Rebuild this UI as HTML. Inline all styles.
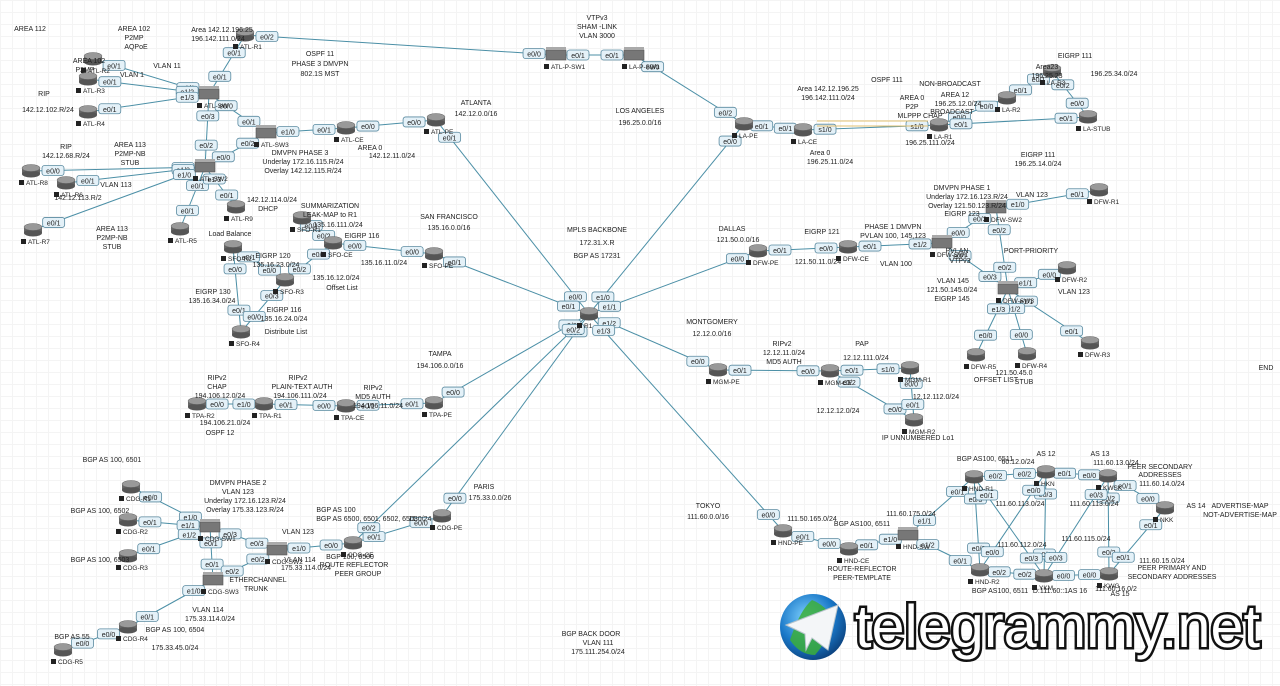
<!DOCTYPE html>
<html><head><meta charset="utf-8">
<style>
html,body{margin:0;padding:0;width:1280px;height:686px;overflow:hidden;background:#fff;}
body{background-image:linear-gradient(#f4f4f4 1px,transparent 1px),linear-gradient(90deg,#f4f4f4 1px,transparent 1px);background-size:12px 12px;}
svg{position:absolute;left:0;top:0;font-family:"Liberation Sans",sans-serif;}
</style></head><body>
<svg id="s" width="1280" height="686" viewBox="0 0 1280 686"></svg>
<script>
const s=document.getElementById('s');let h='';
const R={R1:[589,314],'ATL-PE':[436,120],'ATL-CE':[346,128],'ATL-SW3':[266,133],'ATL-SW':[209,94],'ATL-R1':[245,35],'ATL-R2':[93,59],'ATL-R3':[88,79],'ATL-R4':[88,112],'ATL-SW2':[205,167],'ATL-R8':[31,171],'ATL-R6':[66,183],'ATL-R7':[33,230],'ATL-R5':[180,229],'ATL-R9':[236,207],
'ATL-P-SW1':[556,55],'LA-P-SW1':[634,55],'LA-PE':[744,124],'LA-CE':[803,130],'LA-R1':[939,125],'LA-R2':[1007,98],'LA-R3':[1052,71],'LA-STUB':[1088,117],
'SFO-PE':[434,254],'SFO-CE':[333,243],'SFO-R1':[302,218],'SFO-R2':[233,247],'SFO-R3':[285,280],'SFO-R4':[241,332],
'DFW-PE':[758,251],'DFW-CE':[848,247],'DFW-SW1':[942,243],'DFW-SW2':[996,208],'DFW-R1':[1099,190],'DFW-SW3':[1008,289],'DFW-R2':[1067,268],'DFW-R3':[1090,343],'DFW-R4':[1027,354],'DFW-R5':[976,355],
'MGM-PE':[718,370],'MGM-CE':[830,371],'MGM-R1':[910,368],'MGM-R2':[914,420],
'TPA-PE':[434,403],'TPA-CE':[346,406],'TPA-R1':[264,404],'TPA-R2':[197,404],
'CDG-R1':[131,487],'CDG-R2':[128,520],'CDG-R3':[128,556],'CDG-SW1':[210,527],'CDG-SW2':[277,550],'CDG-SW3':[213,580],'CDG-R4':[128,627],'CDG-R5':[63,650],'CDG-CE':[353,543],'CDG-PE':[442,516],
'HND-PE':[783,531],'HND-CE':[849,549],'HND-SW':[908,535],'HND-R1':[974,477],'HKN':[1046,472],'KWSK':[1108,476],'NKK':[1165,508],'HND-R2':[980,570],'YKM':[1044,576],'KWG':[1109,574]};
const L=[['R1','ATL-PE','e0/0','e0/1'],['R1','LA-PE','e1/0','e0/0'],['R1','SFO-PE','e0/1','e0/1'],['R1','DFW-PE','e1/1','e0/0'],['R1','MGM-PE','e1/2','e0/0'],['R1','TPA-PE','e0/2','e0/0'],['R1','CDG-PE','e0/3','e0/0'],['R1','HND-PE','e1/3','e0/0'],
['ATL-R1','ATL-P-SW1','e0/2','e0/0'],['ATL-P-SW1','LA-P-SW1','e0/1','e0/1'],['LA-P-SW1','LA-PE','e0/0','e0/2'],['ATL-PE','ATL-CE','e0/0','e0/0'],['ATL-CE','ATL-SW3','e0/1','e1/0'],['ATL-SW3','ATL-SW','e0/1','e0/0'],['ATL-SW3','ATL-SW2','e0/2','e0/0'],
['ATL-SW','ATL-R1','e0/1','e0/1'],['ATL-SW','ATL-R2','e1/1','e0/1'],['ATL-SW','ATL-R3','e1/2','e0/1'],['ATL-SW','ATL-R4','e1/3','e0/1'],['ATL-SW','ATL-SW2','e0/3','e0/2'],['ATL-SW2','ATL-R8','e1/1','e0/0'],['ATL-SW2','ATL-R6','e1/2','e0/1'],['ATL-SW2','ATL-R7','e1/0','e0/1'],['ATL-SW2','ATL-R5','e0/1','e0/1'],['ATL-SW2','ATL-R9','e1/3','e0/1'],
['LA-PE','LA-CE','e0/1','e0/1'],['LA-CE','LA-R1','s1/0','s1/0'],['LA-R1','LA-R2','e0/0','e0/0'],['LA-R2','LA-R3','e0/1','e0/1'],['LA-R1','LA-STUB','e0/1','e0/1'],['LA-R3','LA-STUB','e0/2','e0/0'],
['SFO-PE','SFO-CE','e0/0','e0/0'],['SFO-CE','SFO-R1','e0/2','e0/1'],['SFO-CE','SFO-R3','e0/1','e0/2'],['SFO-R2','SFO-R3','e0/1','e0/0'],['SFO-R2','SFO-R4','e0/0','e0/1'],['SFO-R3','SFO-R4','e0/3','e0/0'],
['DFW-PE','DFW-CE','e0/1','e0/0'],['DFW-CE','DFW-SW1','e0/1','e1/2'],['DFW-SW1','DFW-SW2','e0/0','e0/3'],['DFW-SW1','DFW-SW3','e0/1','e0/3'],['DFW-SW2','DFW-R1','e1/0','e0/1'],['DFW-SW2','DFW-SW3','e0/2','e0/2'],['DFW-SW3','DFW-R2','e1/1','e0/0'],['DFW-SW3','DFW-R3','e1/1','e0/1'],['DFW-SW3','DFW-R4','e1/2','e0/0'],['DFW-SW3','DFW-R5','e1/3','e0/0'],
['MGM-PE','MGM-CE','e0/1','e0/0'],['MGM-CE','MGM-R1','e0/1','s1/0'],['MGM-CE','MGM-R2','e0/2','e0/0'],['MGM-R1','MGM-R2','e0/0','e0/1'],
['TPA-PE','TPA-CE','e0/1','e0/1'],['TPA-CE','TPA-R1','e0/0','e0/1'],['TPA-R1','TPA-R2','e1/0','e0/0'],
['CDG-PE','CDG-CE','e0/0','e0/1'],['CDG-CE','CDG-SW2','e0/0','e1/0'],['CDG-SW1','CDG-R1','e1/0','e0/0'],['CDG-SW1','CDG-R2','e1/1','e0/1'],['CDG-SW1','CDG-R3','e1/2','e0/1'],['CDG-SW1','CDG-SW2','e0/3','e0/3'],['CDG-SW1','CDG-SW3','e0/1','e0/1'],['CDG-SW2','CDG-SW3','e0/2','e0/2'],['CDG-SW3','CDG-R4','e1/0','e0/1'],['CDG-R4','CDG-R5','e0/0','e0/0'],
['R1','CDG-CE','e0/2','e0/2'],['HND-PE','HND-CE','e0/1','e0/0'],['HND-CE','HND-SW','e0/1','e1/0'],['HND-SW','HND-R1','e1/1','e0/1'],['HND-SW','HND-R2','e1/2','e0/1'],['HND-R1','HKN','e0/2','e0/2'],['HKN','KWSK','e0/1','e0/0'],['HKN','YKM','e0/3','e0/1'],['HND-R1','HND-R2','e0/3','e0/3'],['HND-R2','YKM','e0/2','e0/2'],['YKM','KWG','e0/0','e0/0'],['KWSK','KWG','e0/2','e0/2'],['KWSK','NKK','e0/1','e0/0'],['NKK','KWG','e0/1','e0/1'],['HND-R1','YKM','e0/1','e0/3'],['HKN','HND-R2','e0/0','e0/0'],['KWSK','YKM','e0/3','e0/3']];
L.forEach(l=>{const a=R[l[0]],b=R[l[1]];h+=`<line x1="${a[0]}" y1="${a[1]}" x2="${b[0]}" y2="${b[1]}" stroke="#4b8fa6" stroke-width="1"/>`;});
function lab(x,y,t){h+=`<rect x="${x-11}" y="${y-5}" width="22" height="10" rx="2.5" fill="#e4f1f8" stroke="#5a8aa0" stroke-width="0.8"/><text x="${x}" y="${y+3}" font-size="7" text-anchor="middle" fill="#222">${t}</text>`;}
L.forEach(l=>{const a=R[l[0]],b=R[l[1]];const d=Math.hypot(b[0]-a[0],b[1]-a[1]);const f=Math.min(0.3,22/d);lab(a[0]+(b[0]-a[0])*f,a[1]+(b[1]-a[1])*f,l[2]);lab(b[0]+(a[0]-b[0])*f,b[1]+(a[1]-b[1])*f,l[3]);});
for(const k in R){const[x,y]=R[k];const sw=/SW/.test(k);
if(sw){h+=`<rect x="${x-10}" y="${y-5}" width="20" height="10" fill="#777" stroke="#555" stroke-width=".6"/><rect x="${x-10}" y="${y-8}" width="20" height="3" fill="#aaa"/>`;}
else{h+=`<rect x="${x-9}" y="${y-3}" width="18" height="6" fill="#666"/><ellipse cx="${x}" cy="${y+3}" rx="9" ry="3.5" fill="#555"/><ellipse cx="${x}" cy="${y-3}" rx="9" ry="3.5" fill="#999" stroke="#666" stroke-width="0.5"/>`;}
h+=`<rect x="${x-12}" y="${y+9}" width="5" height="5" fill="#222"/><text x="${x-5}" y="${y+14}" font-size="6.5" fill="#222">${k}</text>`;}
const T=[[30,31,'AREA 112'],[134,31,'AREA 102'],[134,40,'P2MP'],[136,49,'AQPoE'],[89,63,'AREA 102'],[85,72,'P2MP'],[132,77,'VLAN 1'],[167,68,'VLAN 11'],[44,96,'RIP'],[48,112,'142.12.102.R/24'],[222,32,'Area 142.12.196.25'],[218,41,'196.142.111.0/24'],[320,56,'OSPF 11'],[320,66,'PHASE 3 DMVPN'],[320,76,'802.1S MST'],[476,105,'ATLANTA'],[476,116,'142.12.0.0/16'],[300,155,'DMVPN PHASE 3'],[303,164,'Underlay 172.16.115.R/24'],[303,173,'Overlay 142.12.115.R/24'],[370,150,'AREA 0'],[392,158,'142.12.11.0/24'],[66,149,'RIP'],[66,158,'142.12.68.R/24'],[130,147,'AREA 113'],[130,156,'P2MP-NB'],[130,165,'STUB'],[116,187,'VLAN 113'],[78,200,'142.12.113.R/2'],[112,231,'AREA 113'],[112,240,'P2MP-NB'],[112,249,'STUB'],[272,202,'142.12.114.0/24'],[268,211,'DHCP'],[330,208,'SUMMARIZATION'],[330,217,'LEAK-MAP to R1'],[338,227,'135.16.111.0/24'],[362,238,'EIGRP 116'],[449,219,'SAN FRANCISCO'],[449,230,'135.16.0.0/16'],[384,265,'135.16.11.0/24'],[336,280,'135.16.12.0/24'],[342,290,'Offset List'],[230,236,'Load Balance'],[273,258,'EIGRP 120'],[276,267,'135.16.23.0/24'],[213,294,'EIGRP 130'],[212,303,'135.16.34.0/24'],[284,312,'EIGRP 116'],[284,321,'135.16.24.0/24'],[286,334,'Distribute List'],[597,232,'MPLS BACKBONE'],[597,245,'172.31.X.R'],[597,258,'BGP AS 17231'],[640,113,'LOS ANGELES'],[640,125,'196.25.0.0/16'],[597,20,'VTPv3'],[597,29,'SHAM -LINK'],[597,38,'VLAN 3000'],[887,82,'OSPF 111'],[828,91,'Area 142.12.196.25'],[828,100,'196.142.111.0/24'],[912,100,'AREA 0'],[912,109,'P2P'],[920,118,'MLPPP CHAP'],[820,155,'Area 0'],[830,164,'196.25.11.0/24'],[930,145,'196.25.111.0/24'],[950,86,'NON-BROADCAST'],[955,97,'AREA 12'],[958,106,'196.25.12.0/24'],[952,114,'BROADCAST'],[1047,69,'Area23'],[1047,78,'196.25.23'],[1075,58,'EIGRP 111'],[1114,76,'196.25.34.0/24'],[1038,157,'EIGRP 111'],[1038,166,'196.25.14.0/24'],[732,231,'DALLAS'],[738,242,'121.50.0.0/16'],[822,234,'EIGRP 121'],[818,264,'121.50.11.0/24'],[893,229,'PHASE 1 DMVPN'],[893,238,'PVLAN 100, 145,123'],[896,266,'VLAN 100'],[962,190,'DMVPN PHASE 1'],[967,199,'Underlay 172.16.123.R/24'],[967,208,'Overlay 121.50.123.R/24'],[962,216,'EIGRP 123'],[1032,197,'VLAN 123'],[1031,253,'PORT-PRIORITY'],[957,253,'PVLAN'],[960,263,'VTPv3'],[953,283,'VLAN 145'],[952,292,'121.50.145.0/24'],[952,301,'EIGRP 145'],[1074,294,'VLAN 123'],[1014,375,'121.50.45.0'],[1024,384,'STUB'],[996,382,'OFFSET LIST'],[1266,370,'END'],[712,324,'MONTGOMERY'],[712,336,'12.12.0.0/16'],[782,346,'RIPv2'],[784,355,'12.12.11.0/24'],[784,364,'MD5 AUTH'],[862,346,'PAP'],[866,360,'12.12.111.0/24'],[936,399,'12.12.112.0/24'],[838,413,'12.12.12.0/24'],[918,440,'IP UNNUMBERED Lo1'],[440,356,'TAMPA'],[440,368,'194.106.0.0/16'],[217,380,'RIPv2'],[217,389,'CHAP'],[220,398,'194.106.12.0/24'],[298,380,'RIPv2'],[302,389,'PLAIN-TEXT AUTH'],[300,398,'194.106.111.0/24'],[373,390,'RIPv2'],[373,399,'MD5 AUTH'],[378,408,'194.106.11.0/24'],[225,425,'194.106.21.0/24'],[220,435,'OSPF 12'],[112,462,'BGP AS 100, 6501'],[100,513,'BGP AS 100, 6502'],[100,562,'BGP AS 100, 6503'],[238,485,'DMVPN PHASE 2'],[238,494,'VLAN 123'],[245,503,'Underlay 172.16.123.R/24'],[245,512,'Overlay 175.33.123.R/24'],[336,512,'BGP AS 100'],[367,521,'BGP AS 6500, 6501, 6502, 6503'],[420,521,'11.0/24'],[298,534,'VLAN 123'],[300,562,'VLAN 114'],[306,570,'175.33.114.0/24'],[350,559,'BGP 100, 6500'],[354,567,'ROUTE REFLECTOR'],[358,576,'PEER GROUP'],[258,582,'ETHERCHANNEL'],[256,591,'TRUNK'],[208,612,'VLAN 114'],[210,621,'175.33.114.0/24'],[175,632,'BGP AS 100, 6504'],[175,650,'175.33.45.0/24'],[72,639,'BGP AS 55'],[484,489,'PARIS'],[490,500,'175.33.0.0/26'],[591,636,'BGP BACK DOOR'],[598,645,'VLAN 111'],[598,654,'175.111.254.0/24'],[708,508,'TOKYO'],[708,519,'111.60.0.0/16'],[812,521,'111.50.165.0/24'],[862,526,'BGP AS100, 6511'],[911,516,'111.60.175.0/24'],[862,571,'ROUTE-REFLECTOR'],[862,580,'PEER-TEMPLATE'],[985,461,'BGP AS100, 6511'],[1018,464,'60.12.0/24'],[1046,456,'AS 12'],[1100,456,'AS 13'],[1116,465,'111.60.13.0/24'],[1020,506,'111.60.113.0/24'],[1094,506,'111.60.113.0/24'],[1160,469,'PEER SECONDARY'],[1160,477,'ADDRESSES'],[1162,486,'111.60.14.0/24'],[1196,508,'AS 14'],[1240,508,'ADVERTISE-MAP'],[1240,517,'NOT-ADVERTISE-MAP'],[1022,547,'111.60.112.0/24'],[1086,541,'111.60.115.0/24'],[1162,563,'111.60.15.0/24'],[1172,570,'PEER PRIMARY AND'],[1172,579,'SECONDARY ADDRESSES'],[1000,593,'BGP AS100, 6511'],[1060,593,'D:111.60::1AS 16'],[1116,591,'111.60.16.0/2'],[1120,596,'AS 15']];
T.forEach(t=>{h+=`<text x="${t[0]}" y="${t[1]}" font-size="7" text-anchor="middle" fill="#222">${t[2]}</text>`;});
h+=`<line x1="817" y1="121" x2="928" y2="121" stroke="#e2c070" stroke-width="1"/><line x1="817" y1="126" x2="928" y2="126" stroke="#e2c070" stroke-width="1"/>`;
h+=`<defs><radialGradient id="g" cx="40%" cy="35%" r="70%"><stop offset="0" stop-color="#7fd2ff"/><stop offset=".6" stop-color="#1a78c8"/><stop offset="1" stop-color="#0b3f7a"/></radialGradient></defs>
<circle cx="813" cy="627" r="33" fill="url(#g)"/><path d="M790 640 Q800 610 812 600 Q825 605 835 620 Q828 640 815 655 Q800 655 790 640Z" fill="#3cae3a" opacity=".85"/>
<path d="M786 625 L838 605 L828 650 L812 638 L806 650 L805 634 Z" fill="#f4f6f8" stroke="#b8c4cc" stroke-width="1"/>
<text x="855" y="647" font-size="60" textLength="405" lengthAdjust="spacingAndGlyphs" fill="#fff" stroke="#111" stroke-width="5" paint-order="stroke" font-family="Liberation Sans,sans-serif">telegrammy.net</text>`;
s.innerHTML=h;
</script>
</body></html>
